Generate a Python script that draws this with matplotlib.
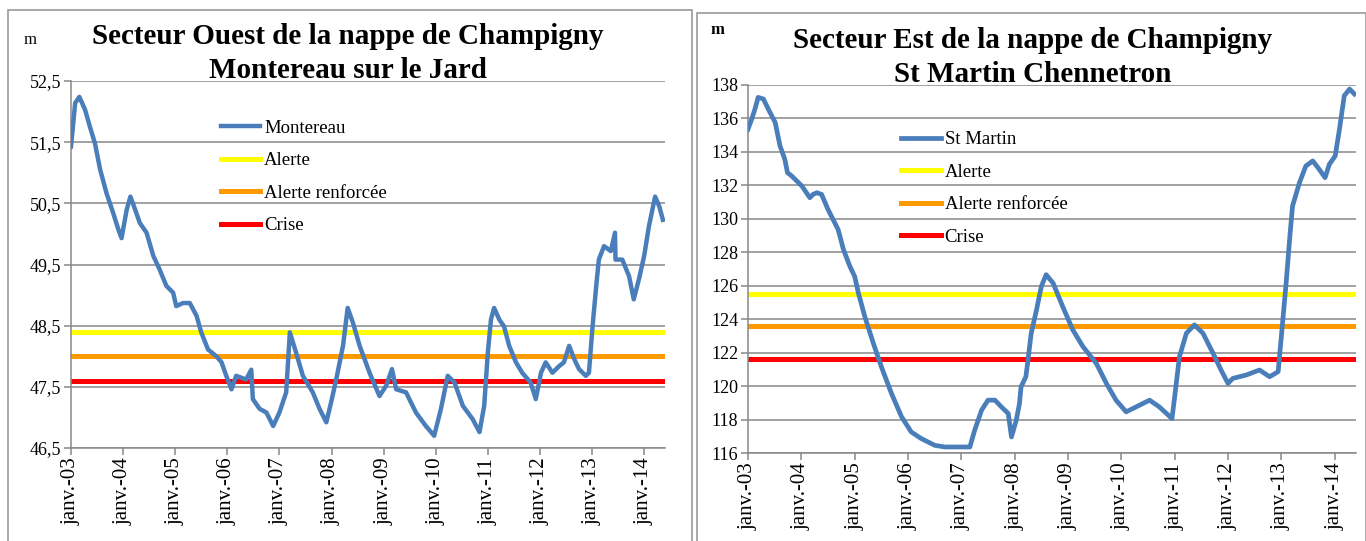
import matplotlib
matplotlib.use("Agg")
import matplotlib.pyplot as plt
from matplotlib.patches import Rectangle

plt.rcParams["font.family"] = ["Liberation Serif", "DejaVu Serif"]

# ---- data (decimal years, metres) ----
montereau_t = [2003.0, 2003.08, 2003.16, 2003.27, 2003.36, 2003.46, 2003.56, 2003.68, 2003.81,
               2003.91, 2003.97, 2004.07, 2004.14, 2004.23, 2004.32, 2004.45, 2004.58, 2004.70,
               2004.83, 2004.96, 2005.02, 2005.15, 2005.28, 2005.41, 2005.50, 2005.63, 2005.79,
               2005.89, 2005.98, 2006.08, 2006.17, 2006.36, 2006.46, 2006.49, 2006.62, 2006.75,
               2006.88, 2007.0, 2007.13, 2007.20, 2007.32, 2007.45, 2007.64, 2007.77, 2007.90,
               2007.99, 2008.09, 2008.22, 2008.31, 2008.41, 2008.54, 2008.73, 2008.92, 2009.05,
               2009.16, 2009.24, 2009.43, 2009.62, 2009.81, 2009.97, 2010.10, 2010.23, 2010.36,
               2010.52, 2010.71, 2010.84, 2010.93, 2011.0, 2011.06, 2011.12, 2011.22, 2011.31,
               2011.41, 2011.54, 2011.66, 2011.82, 2011.92, 2012.02, 2012.11, 2012.24, 2012.37,
               2012.46, 2012.56, 2012.66, 2012.75, 2012.88, 2012.94, 2013.01, 2013.08, 2013.13,
               2013.23, 2013.36, 2013.44, 2013.45, 2013.58, 2013.71, 2013.80, 2013.90, 2014.00,
               2014.09, 2014.21, 2014.29, 2014.36]
montereau_h = [51.43, 52.14, 52.24, 52.03, 51.76, 51.48, 51.05, 50.67, 50.34,
               50.07, 49.93, 50.40, 50.61, 50.40, 50.18, 50.02, 49.64, 49.42,
               49.15, 49.04, 48.82, 48.87, 48.87, 48.66, 48.39, 48.11, 48.00,
               47.90, 47.68, 47.46, 47.68, 47.62, 47.78, 47.30, 47.14, 47.08,
               46.86, 47.08, 47.41, 48.39, 48.06, 47.68, 47.41, 47.14, 46.92,
               47.24, 47.62, 48.17, 48.79, 48.55, 48.17, 47.73, 47.35, 47.52,
               47.79, 47.46, 47.41, 47.08, 46.86, 46.70, 47.14, 47.68, 47.57,
               47.19, 46.97, 46.76, 47.19, 48.06, 48.60, 48.79, 48.60, 48.49,
               48.17, 47.90, 47.73, 47.57, 47.30, 47.73, 47.90, 47.73, 47.84,
               47.90, 48.17, 47.95, 47.79, 47.68, 47.73, 48.49, 49.15, 49.58,
               49.80, 49.72, 50.02, 49.58, 49.58, 49.31, 48.93, 49.26, 49.64,
               50.12, 50.61, 50.45, 50.23]

stmartin_t = [2003.0, 2003.07, 2003.13, 2003.19, 2003.29, 2003.38, 2003.51, 2003.60, 2003.69,
              2003.74, 2003.82, 2004.01, 2004.16, 2004.22, 2004.29, 2004.38, 2004.50, 2004.69,
              2004.79, 2004.91, 2005.00, 2005.07, 2005.19, 2005.35, 2005.50, 2005.69, 2005.88,
              2006.06, 2006.25, 2006.50, 2006.69, 2007.16, 2007.25, 2007.38, 2007.50, 2007.63,
              2007.75, 2007.88, 2007.94, 2008.03, 2008.09, 2008.12, 2008.21, 2008.25, 2008.31,
              2008.41, 2008.50, 2008.59, 2008.72, 2008.90, 2009.09, 2009.28, 2009.53, 2009.72,
              2009.90, 2010.09, 2010.28, 2010.53, 2010.71, 2010.95, 2011.00, 2011.09, 2011.22,
              2011.37, 2011.53, 2011.72, 2011.87, 2012.00, 2012.09, 2012.34, 2012.59, 2012.78,
              2012.94, 2013.00, 2013.09, 2013.16, 2013.21, 2013.34, 2013.46, 2013.59, 2013.71,
              2013.82, 2013.90, 2014.01, 2014.09, 2014.18, 2014.28, 2014.37]
stmartin_h = [135.36, 135.96, 136.56, 137.26, 137.16, 136.56, 135.76, 134.36, 133.56,
              132.76, 132.56, 131.96, 131.26, 131.46, 131.56, 131.46, 130.56, 129.36,
              128.16, 127.16, 126.56, 125.56, 124.16, 122.56, 121.16, 119.56, 118.16,
              117.26, 116.86, 116.46, 116.36, 116.36, 117.36, 118.56, 119.16, 119.16,
              118.76, 118.36, 116.96, 117.96, 118.96, 119.96, 120.56, 121.56, 123.16,
              124.56, 125.96, 126.66, 126.16, 124.76, 123.36, 122.36, 121.36, 120.16,
              119.16, 118.46, 118.76, 119.16, 118.76, 118.06, 119.36, 121.76, 123.16,
              123.66, 123.16, 121.96, 120.96, 120.16, 120.46, 120.66, 120.96, 120.56,
              120.86, 122.96, 126.16, 128.96, 130.76, 132.16, 133.16, 133.46, 132.96,
              132.46, 133.26, 133.76, 135.36, 137.36, 137.76, 137.46]

# thresholds: alerte, alerte renforcee, crise
ouest_seuils = [48.4, 48.0, 47.6]
est_seuils = [125.5, 123.6, 121.6]
seuil_labels = ["Alerte", "Alerte renforcée", "Crise"]
seuil_colors = ["#FFFF00", "#FF9900", "#FF0000"]

years = list(range(2003, 2015))
year_labels = [f"janv.-{y % 100:02d}" for y in years]

BLUE = "#4A7EBB"
GRID = "#888888"

fig = plt.figure(figsize=(13.66, 5.41), dpi=100)

# panel frames
for x0, x1, y_top in [(8, 692, 10), (697, 1366, 13)]:
    fig.patches.append(Rectangle((x0 / 1366, -0.1), (x1 - x0) / 1366, 1.1 - y_top / 541,
                                 transform=fig.transFigure, fill=False,
                                 edgecolor="#9a9a9a", linewidth=1.2))


def draw_panel(rect, t, h, name, seuils, ylim, yticks, ytick_fmt, title1, title2,
               title_x, title_y, leg_anchor, lw_series):
    ax = fig.add_axes(rect)
    ax.plot(t, h, color=BLUE, lw=lw_series, label=name, solid_joinstyle="round", zorder=3)
    for val, lab, col in zip(seuils, seuil_labels, seuil_colors):
        ax.axhline(val, color=col, lw=3.6, label=lab, zorder=2)
    ax.set_xlim(2003.0, 2014.4)
    ax.set_ylim(*ylim)
    ax.set_yticks(yticks)
    ax.set_yticklabels([ytick_fmt(v) for v in yticks], fontsize=13)
    ax.set_xticks(years)
    ax.set_xticklabels(year_labels, rotation=90, fontsize=15)
    ax.grid(axis="y", color=GRID, lw=1.1)
    ax.set_axisbelow(True)
    for s in ["top", "right"]:
        ax.spines[s].set_visible(False)
    for s in ["left", "bottom"]:
        ax.spines[s].set_color(GRID)
        ax.spines[s].set_linewidth(1.1)
    ax.tick_params(axis="both", color=GRID, length=5, width=1.1, pad=2)
    ax.legend(loc="upper left", bbox_to_anchor=leg_anchor, frameon=False, fontsize=13.5,
              handlelength=2.1, handletextpad=0.2, labelspacing=0.82, borderaxespad=0)
    fig.text(title_x, 1 - title_y / 541, title1, ha="center", va="center",
             fontsize=21, fontweight="bold")
    fig.text(title_x, 1 - (title_y + 34) / 541, title2, ha="center", va="center",
             fontsize=21, fontweight="bold")
    return ax


draw_panel([71 / 1366, 1 - 448 / 541, 594 / 1366, 367 / 541],
           montereau_t, montereau_h, "Montereau", ouest_seuils,
           (46.5, 52.5), [46.5, 47.5, 48.5, 49.5, 50.5, 51.5, 52.5],
           lambda v: f"{v:.1f}".replace(".", ","),
           "Secteur Ouest de la nappe de Champigny", "Montereau sur le Jard",
           348 / 1366, 37, (0.24, 0.915), 3.2)

draw_panel([748 / 1366, 1 - 453 / 541, 608 / 1366, 368 / 541],
           stmartin_t, stmartin_h, "St Martin", est_seuils,
           (116, 138), list(range(116, 139, 2)),
           lambda v: f"{v:d}",
           "Secteur Est de la nappe de Champigny", "St Martin Chennetron",
           1033 / 1366, 40, (0.24, 0.895), 3.4)

fig.text(30 / 1366, 1 - 40 / 541, "m", ha="center", va="center", fontsize=12)
fig.text(717 / 1366, 1 - 30 / 541, "m", ha="center", va="center", fontsize=12,
         fontweight="bold")

fig.savefig("out.png", dpi=100)
